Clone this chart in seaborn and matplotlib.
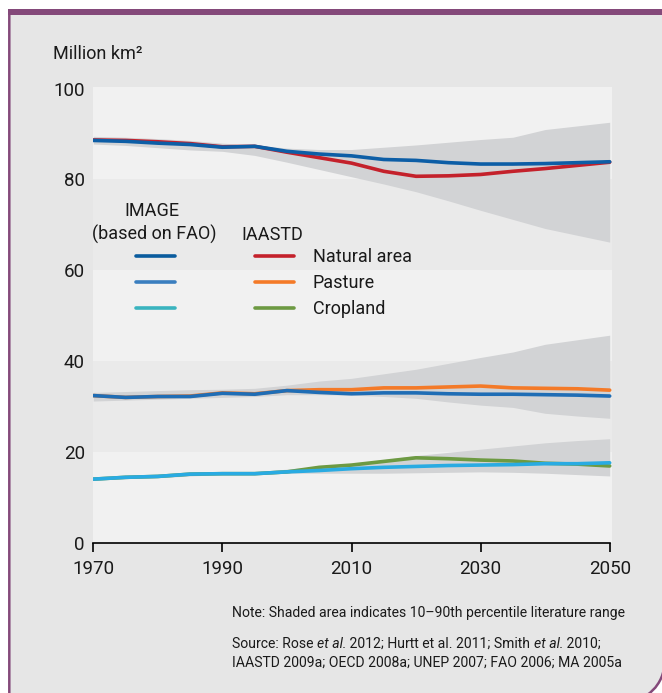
import matplotlib
matplotlib.use("Agg")
import matplotlib.pyplot as plt
import seaborn as sns
import pandas as pd
from matplotlib.path import Path
from matplotlib.patches import PathPatch, Rectangle
from matplotlib.lines import Line2D

# ---------------- data ----------------
years = list(range(1970, 2051, 5))

natural_image = [88.6, 88.4, 88.0, 87.7, 87.1, 87.3, 86.2, 85.6, 85.2, 84.4, 84.2, 83.7, 83.4, 83.4, 83.5, 83.7, 83.9]
natural_iaastd = [88.7, 88.6, 88.3, 87.9, 87.2, 87.3, 86.0, 84.8, 83.6, 81.8, 80.7, 80.8, 81.1, 81.8, 82.4, 83.1, 83.8]
natural_low = [87.8, 87.5, 87.0, 86.5, 86.2, 85.3, 83.8, 82.2, 80.6, 79.0, 77.3, 75.3, 73.2, 71.2, 69.2, 67.7, 66.2]
natural_high = [89.5, 89.3, 89.0, 88.6, 88.0, 87.6, 86.9, 86.6, 86.6, 87.1, 87.6, 88.2, 88.8, 89.3, 91.0, 91.8, 92.6]

pasture_image = [32.4, 32.0, 32.2, 32.2, 32.9, 32.7, 33.5, 33.1, 32.8, 33.0, 33.0, 32.8, 32.7, 32.7, 32.6, 32.5, 32.3]
pasture_iaastd = [32.4, 32.0, 32.2, 32.3, 33.0, 32.8, 33.5, 33.7, 33.7, 34.1, 34.1, 34.3, 34.5, 34.1, 34.0, 33.9, 33.6]
pasture_low = [31.2, 31.4, 31.6, 31.8, 32.0, 32.2, 32.6, 32.6, 32.5, 32.2, 31.8, 31.0, 30.3, 29.8, 28.5, 27.9, 27.4]
pasture_high = [33.1, 33.3, 33.5, 33.7, 33.8, 34.0, 34.7, 35.6, 36.2, 37.2, 38.2, 39.5, 40.8, 42.0, 43.7, 44.7, 45.7]

crop_image = [14.0, 14.4, 14.6, 15.1, 15.2, 15.2, 15.6, 15.9, 16.3, 16.6, 16.8, 17.0, 17.1, 17.2, 17.4, 17.4, 17.6]
crop_iaastd = [14.0, 14.4, 14.6, 15.1, 15.2, 15.2, 15.6, 16.6, 17.1, 17.9, 18.7, 18.5, 18.2, 18.0, 17.5, 17.3, 16.9]
crop_low = [13.8, 14.1, 14.3, 14.7, 15.0, 15.0, 15.3, 15.3, 15.3, 15.3, 15.4, 15.5, 15.6, 15.5, 15.3, 15.0, 14.7]
crop_high = [14.2, 14.6, 14.9, 15.3, 15.5, 15.6, 16.2, 16.8, 17.4, 18.3, 19.2, 19.9, 20.6, 21.3, 22.0, 22.5, 22.9]

categories = ["Natural area", "Pasture", "Cropland"]
x_ticks = [1970, 1990, 2010, 2030, 2050]
y_ticks = [0, 20, 40, 60, 80, 100]

# ---------------- style ----------------
sns.set_theme(style="white")
plt.rcParams['font.family'] = ['Roboto', 'DejaVu Sans']

W, H = 662, 693
PURPLE = '#84497a'
BG = '#e6e6e6'
BAND = '#d2d3d5'
TXT = '#1a1a1a'
line_img = ['#0d5ea6', '#1f6db5', '#29abe2']
leg_img = ['#0a5c9e', '#3a7ebf', '#3ab4bf']
line_ias = ['#c4212b', '#f47a28', '#6d9a42']

fig = plt.figure(figsize=(W / 100, H / 100), dpi=100, facecolor='white')


def fx(x):
    return x / W


def fy(y):
    return 1 - y / H


# frame with rounded bottom-right corner
left, top, right, bottom, r = 9.3, 12, 664.5, 702, 40
k = 0.5523
verts = [(fx(left), fy(top)), (fx(right), fy(top)), (fx(right), fy(bottom - r)),
         (fx(right), fy(bottom - r + k * r)), (fx(right - r + k * r), fy(bottom)), (fx(right - r), fy(bottom)),
         (fx(left), fy(bottom)), (fx(left), fy(top))]
codes = [Path.MOVETO, Path.LINETO, Path.LINETO, Path.CURVE4, Path.CURVE4, Path.CURVE4, Path.LINETO, Path.CLOSEPOLY]
fig.patches.append(PathPatch(Path(verts, codes), transform=fig.transFigure, facecolor=BG,
                             edgecolor=PURPLE, lw=1.8, zorder=-10))
fig.patches.append(Rectangle((fx(8), fy(14.8)), fx(662 - 8), 5.3 / H, transform=fig.transFigure,
                             facecolor=PURPLE, edgecolor='none', zorder=-9))

# axes
ax_l, ax_r, ax_t, ax_b = 93.3, 612, 87.3, 542.7
ax = fig.add_axes([fx(ax_l), fy(ax_b), fx(ax_r - ax_l), (ax_b - ax_t) / H])
ax.set_zorder(1)
ax.set_facecolor('#f1f1f1')
ax.set_xlim(1970, 1970 + (ax_r - ax_l) / 6.455)
ax.set_ylim(0, 100.3)
ax.axhspan(20, 40, color='#eaeaea', lw=0, zorder=0)
ax.axhspan(60, 80, color='#eaeaea', lw=0, zorder=0)

for lo, hi in [(natural_low, natural_high), (pasture_low, pasture_high), (crop_low, crop_high)]:
    ax.fill_between(years, lo, hi, color=BAND, lw=0, zorder=1)

LW = 2.6
for vals, c in zip([natural_iaastd, pasture_iaastd, crop_iaastd], line_ias):
    sns.lineplot(x=years, y=vals, ax=ax, color=c, linewidth=LW, zorder=3)
for vals, c in zip([natural_image, pasture_image, crop_image], line_img):
    sns.lineplot(x=years, y=vals, ax=ax, color=c, linewidth=LW, zorder=4)

for s in ['top', 'right', 'left']:
    ax.spines[s].set_visible(False)
ax.spines['bottom'].set_color('black')
ax.spines['bottom'].set_linewidth(1.2)
ax.spines['bottom'].set_bounds(1970, 2050)
ax.set_xticks(x_ticks)
ax.set_xticklabels([str(v) for v in x_ticks])
ax.set_yticks(y_ticks)
ax.set_yticklabels([str(v) for v in y_ticks])
ax.tick_params(axis='x', direction='out', length=6.5, width=1.2, color='black', labelsize=13.5,
               pad=6, labelcolor=TXT, bottom=True)
ax.tick_params(axis='y', length=0, labelsize=13.5, pad=6, labelcolor=TXT, left=True)
ax.set_xlabel('')
ax.set_ylabel('')
ax.grid(False)

# legend
handles = [Line2D([], [], color=c, lw=LW) for c in leg_img] + [Line2D([], [], color=c, lw=LW) for c in line_ias]
labels = ['', '', ''] + categories
leg = ax.legend(handles, labels, ncol=2, fontsize=13, frameon=False, handlelength=2.15,
                handletextpad=1.05, columnspacing=3.4, labelspacing=0.43, borderpad=0,
                borderaxespad=0, loc='upper left', bbox_to_anchor=(fx(136), fy(248.5)),
                bbox_transform=fig.transFigure)
for t in leg.get_texts():
    t.set_color(TXT)

fig.text(fx(152.2), fy(215.7), 'IMAGE', ha='center', va='baseline', fontsize=13, color=TXT)
fig.text(fx(154), fy(240), '(based on FAO)', ha='center', va='baseline', fontsize=13, color=TXT)
fig.text(fx(241.7), fy(240), 'IAASTD', ha='left', va='baseline', fontsize=13, color=TXT)

# unit label
fig.text(fx(52.7), fy(59), 'Million km²', ha='left', va='baseline', fontsize=13, color=TXT)

# notes
NS = 10.1
fig.text(fx(231.7), fy(616.7), 'Note: Shaded area indicates 10–90th percentile literature range',
         ha='left', va='baseline', fontsize=NS, color=TXT)


def chain(parts, x, y):
    t = fig.text(fx(x), fy(y), parts[0][0], ha='left', va='baseline', fontsize=NS,
                 style=parts[0][1], color=TXT)
    for s, style in parts[1:]:
        t = fig.text(0, 0, s, ha='left', va='bottom', fontsize=NS, style=style, color=TXT,
                     transform=matplotlib.transforms.offset_copy(
                         matplotlib.transforms.BboxTransformTo(t.get_window_extent(fig.canvas.get_renderer())),
                         fig=fig, x=0, y=0))
        t.set_position((1, 0))
        fig.canvas.draw()
    return t


fig.canvas.draw()
chain([('Source: Rose ', 'normal'), ('et al.', 'italic'), (' 2012; Hurtt et al. 2011; Smith ', 'normal'),
       ('et al.', 'italic'), (' 2010;', 'normal')], 231.7, 648)
fig.text(fx(231.7), fy(667), 'IAASTD 2009a; OECD 2008a; UNEP 2007; FAO 2006; MA 2005a',
         ha='left', va='baseline', fontsize=NS, color=TXT)

fig.savefig('out.png', dpi=100, facecolor=fig.get_facecolor())
